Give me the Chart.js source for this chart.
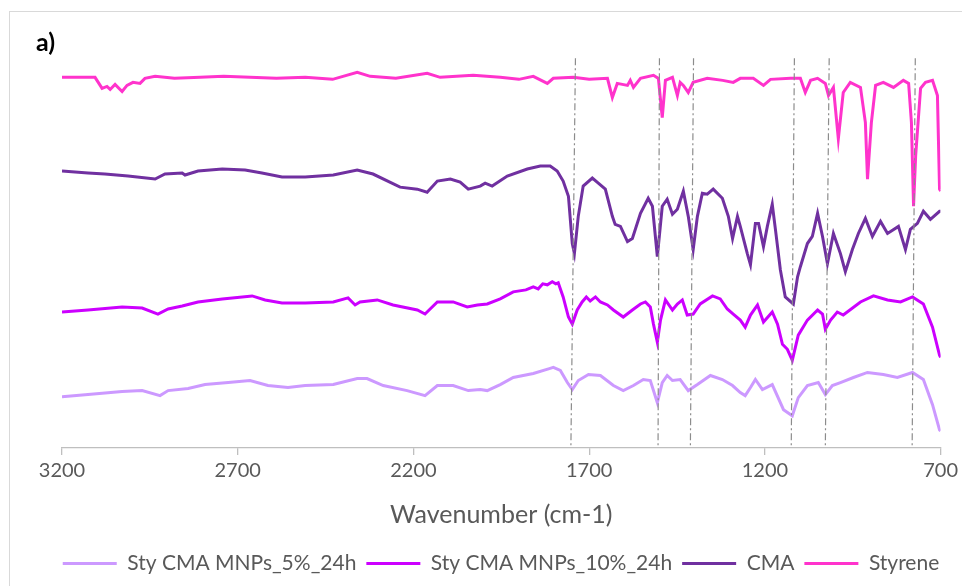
<!DOCTYPE html>
<html>
<head>
<meta charset="utf-8">
<script src="https://cdn.jsdelivr.net/npm/chart.js@4.4.0/dist/chart.umd.min.js"></script>
<style>
  html, body { margin: 0; padding: 0; background: #ffffff; }
  #wrap { position: relative; width: 962px; height: 586px; overflow: hidden; }
  #frame { position: absolute; left: 9px; top: 11px; width: 1000px; height: 620px; border: 1px solid #D9D9D9; box-sizing: border-box; }
  #panel { position: absolute; left: 36px; top: 26px; font-family: Lato, 'Liberation Sans', sans-serif; font-weight: bold; font-size: 25px; color: #000; }
  canvas { position: absolute; left: 0; top: 0; }
</style>
</head>
<body>
<div id="wrap">
  <div id="frame"></div>
  <canvas id="c" width="962" height="586"></canvas>
  <div id="panel">a)</div>
</div>
<script>
// ---- Data (wavenumber in cm-1, intensity in arbitrary offset units) ----
const seriesNames = ['Sty CMA MNPs_5%_24h', 'Sty CMA MNPs_10%_24h', 'CMA', 'Styrene'];
const xTicks = [3200, 2700, 2200, 1700, 1200, 700];

const m5Wn = [3200,3126,3029,2972,2921,2898,2841,2793,2727,2665,2614,2557,2508,2428,2360,2332,2286,2218,2167,2132,2087,2044,2010,1990,1953,1916,1859,1811,1802,1782,1762,1748,1731,1702,1668,1631,1603,1574,1546,1526,1506,1492,1478,1463,1441,1418,1392,1355,1321,1292,1270,1256,1241,1227,1207,1179,1147,1122,1105,1079,1048,1028,1008,985,948,908,863,823,780,749,723,703,700];
const m5Val = [51,53,56,57,52,57,59,63,65,67,62,60,62,63,69,69,62,57,52,62,62,57,58,57,63,70,74,79,80,77,65,58,67,73,72,62,57,62,68,67,45,65,72,67,68,57,63,72,68,62,55,52,60,68,58,63,38,32,50,62,65,53,62,65,70,75,73,70,75,68,43,18,17];

const m10Wn = [3200,3126,3029,2972,2927,2898,2858,2813,2744,2659,2622,2574,2508,2428,2386,2366,2352,2303,2258,2189,2167,2132,2087,2047,2018,1990,1953,1916,1880,1859,1845,1832,1819,1805,1795,1788,1774,1759,1748,1734,1720,1708,1697,1682,1668,1648,1631,1603,1577,1554,1540,1526,1517,1506,1497,1483,1463,1449,1435,1421,1404,1384,1349,1327,1307,1290,1270,1256,1241,1221,1204,1179,1164,1150,1136,1122,1105,1079,1050,1036,1028,1013,994,977,928,891,851,814,780,749,723,703,700];
const m10Val = [135,137,140,139,133,138,141,145,148,151,147,144,144,145,149,142,145,147,142,137,133,145,145,140,142,143,148,155,157,160,158,163,162,165,163,164,150,130,123,137,145,150,146,150,145,142,137,130,137,143,145,140,123,105,127,147,137,143,147,132,133,143,151,148,138,133,127,120,132,142,125,135,123,103,98,87,112,127,137,133,118,127,135,132,145,151,147,145,150,143,120,92,90];

const cmaWn = [3200,3126,3078,3012,2935,2907,2858,2850,2813,2744,2679,2631,2574,2508,2428,2360,2315,2238,2189,2161,2132,2095,2067,2044,2010,1996,1976,1933,1876,1839,1811,1791,1774,1759,1748,1742,1731,1717,1691,1674,1654,1634,1626,1611,1591,1577,1554,1532,1520,1506,1492,1478,1463,1449,1432,1418,1404,1392,1378,1364,1347,1321,1304,1292,1278,1270,1250,1241,1227,1218,1204,1193,1179,1170,1156,1142,1119,1107,1099,1079,1065,1050,1036,1022,1005,985,971,951,934,914,894,871,851,820,800,786,766,749,729,703,700];
const cmaVal = [275,273,272,270,267,272,273,271,275,277,276,273,269,269,271,276,272,259,257,254,265,267,264,257,260,263,260,270,277,280,280,275,265,250,203,193,230,260,268,263,257,230,222,220,205,208,233,248,240,190,240,247,232,237,255,230,197,230,253,252,257,248,230,208,230,220,193,182,223,223,200,220,242,217,177,150,143,170,180,203,210,233,210,183,213,193,175,197,213,228,210,225,213,220,197,217,223,235,227,235,235];

const styWn = [3200,3126,3106,3086,3072,3063,3049,3029,3015,2998,2978,2964,2935,2880,2807,2740,2665,2590,2508,2430,2360,2323,2250,2161,2124,2030,1953,1900,1859,1819,1802,1745,1700,1648,1634,1620,1591,1583,1574,1554,1517,1503,1492,1483,1463,1449,1441,1432,1418,1404,1364,1320,1290,1270,1233,1204,1184,1127,1099,1085,1070,1050,1028,1019,1005,991,977,957,928,914,908,897,885,863,834,806,791,783,777,771,757,743,723,709,703,700];
const styVal = [368,368,368,357,359,356,361,354,360,363,362,367,369,367,368,369,368,367,368,366,373,369,367,372,368,370,368,366,369,362,367,368,366,367,348,362,360,365,358,367,370,367,328,365,368,350,363,360,353,363,367,365,363,367,367,360,366,367,367,353,365,367,362,350,358,307,353,363,358,323,267,323,360,363,358,365,362,323,240,290,357,363,365,350,257,255];

// band marker lines (dash-dot), top and bottom wavenumbers
const markTopWn = [1739, 1500, 1403, 1116, 1017, 772];
const markBotWn = [1752, 1504, 1412, 1125, 1028, 781];
const markTopVal = 387;

const colors = ['#CC99FF', '#CC00FF', '#7030A0', '#FF33CC'];

function pts(xs, ys) { return xs.map((x, i) => ({ x: x, y: ys[i] })); }

const FONT = "Lato, 'Liberation Sans', sans-serif";
const series = [
  { wn: m5Wn, val: m5Val },
  { wn: m10Wn, val: m10Val },
  { wn: cmaWn, val: cmaVal },
  { wn: styWn, val: styVal }
];

const datasets = series.map((s, i) => ({
  label: seriesNames[i],
  data: pts(s.wn, s.val),
  borderColor: colors[i],
  backgroundColor: colors[i],
  borderWidth: 3,
  pointRadius: 0,
  tension: 0,
  fill: false,
  order: 3 - i
}));

markTopWn.forEach((w, i) => {
  datasets.push({
    label: '_mark' + i,
    data: [{ x: w, y: markTopVal }, { x: markBotWn[i], y: 0 }],
    borderColor: '#8C8C8C',
    borderWidth: 1.2,
    borderDash: [7, 3, 2, 3],
    pointRadius: 0,
    fill: false,
    order: -1
  });
});

const hiddenAxis = (w, pos) => ({
  display: true,
  position: pos,
  min: 0,
  max: 415,
  ticks: { display: false },
  grid: { display: false, drawTicks: false },
  border: { display: false },
  afterFit: (scale) => { scale.width = w; }
});

// let the legend use the full frame width (like the Excel legend) instead of only the plot width
const wideLegend = {
  id: 'wideLegend',
  beforeUpdate(chart) {
    const lg = chart.legend;
    if (lg && !lg._wide) {
      const orig = lg.update.bind(lg);
      lg.update = (maxWidth, maxHeight, margins) => orig(Math.max(maxWidth, 940), maxHeight, margins);
      lg._wide = true;
    }
  }
};

new Chart(document.getElementById('c'), {
  type: 'line',
  data: { datasets: datasets },
  plugins: [wideLegend],
  options: {
    responsive: false,
    animation: false,
    devicePixelRatio: 1,
    layout: { padding: { left: 40, right: 0, top: 30, bottom: 2 } },
    plugins: {
      tooltip: { enabled: false },
      legend: {
        position: 'bottom',
        labels: {
          font: { family: FONT, size: 21 },
          color: '#595959',
          boxWidth: 54,
          boxHeight: 3,
          padding: 10,
          filter: (item) => !item.text.startsWith('_mark'),
          sort: (a, b) => a.datasetIndex - b.datasetIndex,
          generateLabels: (chart) => chart.data.datasets.map((d, i) => ({
            text: d.label,
            fillStyle: d.borderColor,
            strokeStyle: d.borderColor,
            lineWidth: 0,
            hidden: false,
            datasetIndex: i,
            fontColor: '#595959'
          }))
        }
      }
    },
    scales: {
      x: {
        type: 'linear',
        reverse: true,
        min: 700,
        max: 3200,
        afterBuildTicks: (scale) => { scale.ticks = xTicks.map(v => ({ value: v })); },
        ticks: {
          font: { family: FONT, size: 20 },
          color: '#595959',
          padding: 4,
          maxRotation: 0,
          autoSkip: false,
          callback: (v) => String(v)
        },
        grid: {
          drawOnChartArea: false,
          drawTicks: true,
          tickLength: 7,
          color: '#BFBFBF',
          lineWidth: 1.3
        },
        border: { display: true, color: '#BFBFBF', width: 1.3 },
        title: {
          display: true,
          text: 'Wavenumber (cm-1)',
          font: { family: FONT, size: 25 },
          color: '#595959',
          padding: { top: 13, bottom: 13 }
        }
      },
      y: hiddenAxis(22, 'left'),
      y2: hiddenAxis(18, 'right')
    }
  }
});
</script>
</body>
</html>
